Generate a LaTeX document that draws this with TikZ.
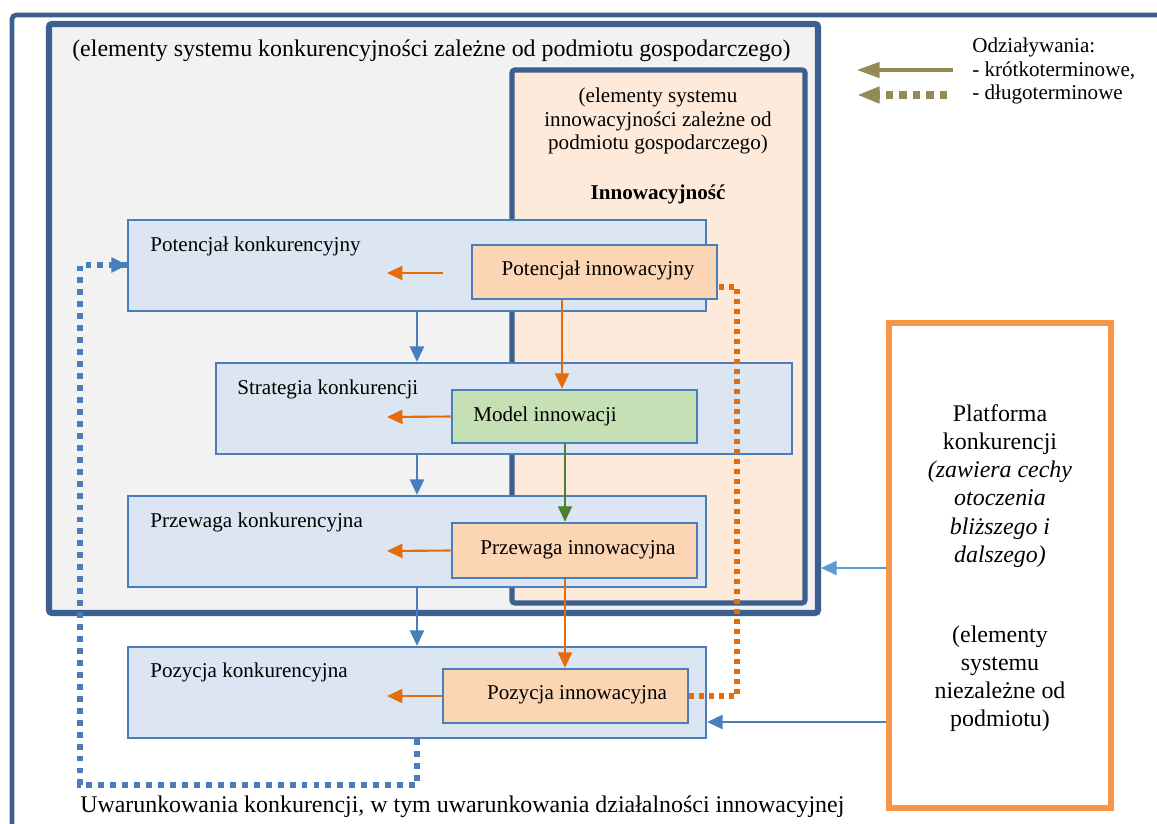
\documentclass[tikz,border=0pt]{standalone}
\usepackage{fontspec}
\setmainfont{Liberation Serif}
\usetikzlibrary{arrows.meta,fit}

\definecolor{frameblue}{HTML}{3B5F8E}
\definecolor{graybg}{HTML}{F2F2F2}
\definecolor{peachbg}{HTML}{FDEADA}
\definecolor{boxblue}{HTML}{DCE6F2}
\definecolor{boxline}{HTML}{4A7EBB}
\definecolor{innpeach}{HTML}{FCD5B5}
\definecolor{innGreen}{HTML}{C4E0B4}
\definecolor{arrOrange}{HTML}{E46C0A}
\definecolor{arrGreen}{HTML}{4E7F30}
\definecolor{arrBlue}{HTML}{4A7EBB}
\definecolor{arrLight}{HTML}{5B9BD5}
\definecolor{legOlive}{HTML}{948A54}
\definecolor{platOrange}{HTML}{F79646}

\newcommand{\lblfont}{\fontsize{15}{17}\selectfont}
\newcommand{\bigfont}{\fontsize{17}{20}\selectfont}

\begin{document}
\begin{tikzpicture}[x=0.025cm,y=-0.025cm,
  area/.style={inner sep=0pt,draw=frameblue,rounded corners=2pt},
  bluebox/.style={inner sep=0pt,draw=boxline,line width=1.6pt,fill=boxblue},
  innbox/.style={inner sep=0pt,draw=boxline,line width=1.8pt},
  lbl/.style={inner sep=0pt,font=\lblfont},
  oarrow/.style={draw=arrOrange,line width=1.5pt,-{Triangle[length=11pt,width=10pt]},arrOrange},
  garrow/.style={draw=arrGreen,line width=1pt,-{Triangle[length=11pt,width=10pt]},arrGreen},
  barrow/.style={draw=arrBlue,line width=1.5pt,-{Triangle[length=11pt,width=10pt]},arrBlue},
  odots/.style={draw=arrOrange,line width=3.6pt,dash pattern=on 3.6pt off 3.5pt},
  bdots/.style={draw=arrBlue,line width=3.6pt,dash pattern=on 4.2pt off 4.3pt},
]
\useasboundingbox (0,0) rectangle (1157,823);

% outer frame (top and left edges)
\draw[frameblue,line width=3.3pt,rounded corners=3pt] (12,830) -- (12,15) -- (1160,15);

% areas dependent on the company
\node[area,fill=graybg,line width=4.3pt,fit={(49,24)(818,613)}] (konk) {};
\node[inner sep=0pt,anchor=base west,font=\bigfont] (konktxt) at (72,56)
  {(elementy systemu konkurencyjności zależne od podmiotu gospodarczego)};

\node[area,fill=peachbg,line width=3.6pt,fit={(512,70)(805,603)}] (inno) {};
\node[lbl,align=center] (innotxt) at (658,121)
  {(elementy systemu\\innowacyjności zależne od\\podmiotu gospodarczego)};
\node[lbl,anchor=base,font=\lblfont\bfseries] (innohead) at (658,199) {Innowacyjność};

% legend
\node[lbl,align=left,anchor=west] (legtxt) at (972,71)
  {Odziaływania:\\- krótkoterminowe,\\- długoterminowe};
\coordinate (l1s) at (953,70);
\coordinate (l1e) at (857,70);
\coordinate (l2s) at (947,95);
\coordinate (l2e) at (857,95);
\draw[legOlive,line width=2.2pt,-{Triangle[length=16pt,width=11pt]}] (l1s) -- (l1e);
\draw[legOlive,line width=5pt,dash pattern=on 5pt off 4.6pt,-{Triangle[length=16pt,width=11pt]}] (l2s) -- (l2e);

% competitiveness boxes
\node[bluebox,fit={(128,220)(706,311)}] (pk) {};
\node[lbl,anchor=base west] (pktxt) at (150,251) {Potencjał konkurencyjny};
\node[bluebox,fit={(216,363)(792,454)}] (sk) {};
\node[lbl,anchor=base west] (sktxt) at (237,394) {Strategia konkurencji};
\node[bluebox,fit={(128,496)(706,587)}] (prk) {};
\node[lbl,anchor=base west] (prktxt) at (150,527) {Przewaga konkurencyjna};
\node[bluebox,fit={(128,647)(706,738)}] (pzk) {};
\node[lbl,anchor=base west] (pzktxt) at (150,677) {Pozycja konkurencyjna};

% innovation boxes
\node[innbox,fill=innpeach,fit={(472,245)(717,299)}] (pin) {};
\node[lbl,anchor=base] (pintxt) at (598,275) {Potencjał innowacyjny};
\node[innbox,fill=innGreen,fit={(452,390)(697,443)}] (mi) {};
\node[lbl,anchor=base west] (mitxt) at (473,421) {Model innowacji};
\node[innbox,fill=innpeach,fit={(452,523)(697,578)}] (pi) {};
\node[lbl,anchor=base] (pitxt) at (578,554) {Przewaga innowacyjna};
\node[innbox,fill=innpeach,fit={(443,669)(688,723)}] (zi) {};
\node[lbl,anchor=base] (zitxt) at (577,699) {Pozycja innowacyjna};

% platform of competition
\node[inner sep=0pt,draw=platOrange,line width=3.6pt,fill=white,fit={(889,323)(1111,808)}] (plat) {};
\node[inner sep=0pt,align=center,font=\bigfont] (plattxt) at (1000,486)
  {Platforma\\konkurencji\\\textit{(zawiera cechy}\\\textit{otoczenia}\\\textit{bliższego i}\\\textit{dalszego)}};
\node[inner sep=0pt,align=center,font=\bigfont] (platsub) at (1000,679)
  {(elementy\\systemu\\niezależne od\\podmiotu)};

% helper points
\coordinate (xa) at (417,0);
\coordinate (xo1) at (562,0);
\coordinate (xo2) at (565,0);
\coordinate (a1s) at (443,273);
\coordinate (a1e) at (387,273);
\coordinate (a2e) at (387,417);
\coordinate (a3e) at (387,551);
\coordinate (a4e) at (387,696);

% short-term effects inside boxes
\draw[oarrow] (a1s) -- (a1e);
\draw[oarrow] (mi.west) -- (a2e);
\draw[oarrow] (pi.west) -- (a3e);
\draw[oarrow] (zi.west) -- (a4e);

\draw[oarrow] (pin.south -| xo1) -- (mi.north -| xo1);
\draw[garrow] (mi.south -| xo2) -- (pi.north -| xo2);
\draw[oarrow] (pi.south -| xo2) -- (zi.north -| xo2);

\draw[barrow] (pk.south -| xa) -- (sk.north -| xa);
\draw[barrow] (sk.south -| xa) -- (prk.north -| xa);
\draw[barrow] (prk.south -| xa) -- (pzk.north -| xa);

% long-term effects
\coordinate (od1) at (737,287);
\coordinate (od2) at (718,287);
\draw[odots] (zi.east) -| (od1) -- (od2);

\coordinate (bd1) at (417,785);
\coordinate (bd2) at (80,785);
\coordinate (bd3) at (80,265);
\draw[bdots] (pzk.south -| xa) -- (bd1) -- (bd2) -- (bd3) -- (pk.west |- bd3);
\coordinate (bd4) at (112,265);
\draw[arrBlue,line width=1pt,-{Triangle[length=11pt,width=11pt]}] (bd4) -- (pk.west |- bd3);

% effects of the environment
\coordinate (e1) at (0,568);
\coordinate (e2) at (0,722);
\draw[arrLight,line width=1.5pt,-{Triangle[length=11pt,width=10pt]}] (plat.west |- e1) -- (konk.east |- e1);
\draw[barrow] (plat.west |- e2) -- (pzk.east |- e2);

\node[inner sep=0pt,anchor=base west,font=\bigfont] (bottomtxt) at (80,812)
  {Uwarunkowania konkurencji, w tym uwarunkowania działalności innowacyjnej};
\end{tikzpicture}
\end{document}
